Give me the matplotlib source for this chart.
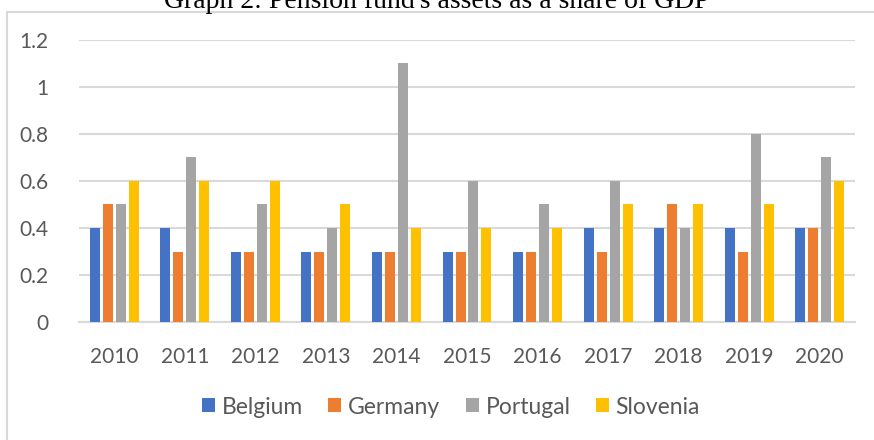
import numpy as np
import matplotlib
matplotlib.use('Agg')
import matplotlib.pyplot as plt
from matplotlib.patches import Rectangle

years = ['2010', '2011', '2012', '2013', '2014', '2015', '2016', '2017', '2018', '2019', '2020']
countries = ['Belgium', 'Germany', 'Portugal', 'Slovenia']
belgium = [0.4, 0.4, 0.3, 0.3, 0.3, 0.3, 0.3, 0.4, 0.4, 0.4, 0.4]
germany = [0.5, 0.3, 0.3, 0.3, 0.3, 0.3, 0.3, 0.3, 0.5, 0.3, 0.4]
portugal = [0.5, 0.7, 0.5, 0.4, 1.1, 0.6, 0.5, 0.6, 0.4, 0.8, 0.7]
slovenia = [0.6, 0.6, 0.6, 0.5, 0.4, 0.4, 0.4, 0.5, 0.5, 0.5, 0.6]
yticks = [0, 0.2, 0.4, 0.6, 0.8, 1, 1.2]
ytick_labels = ['0', '0.2', '0.4', '0.6', '0.8', '1', '1.2']

colori = ['#4472C4', '#ED7D31', '#A5A5A5', '#FFC000']
serie = [belgium, germany, portugal, slovenia]

plt.rcParams['font.family'] = ['Lato', 'DejaVu Sans']

fig = plt.figure(figsize=(8.74, 4.4), dpi=100)
W, H = 874, 440

# bordo del grafico (tagliato a destra e in basso)
fig.patches.append(Rectangle((7 / W, -0.1), 1.2, 1 - 12 / H + 0.1, transform=fig.transFigure,
                             fill=False, edgecolor='#D9D9D9', linewidth=1.5, clip_on=False))

# titolo tagliato in alto, come nell'originale
fig.text(437 / W, 1 - 8 / H, "Graph 2: Pension fund's assets as a share of GDP",
         ha='center', va='baseline', fontsize=20, family='Liberation Serif', color='black')

ax = fig.add_axes([79 / W, 1 - 322 / H, (855 - 79) / W, (322 - 40) / H])

x = np.arange(len(years))
larghezza = 0.142
passo = 0.184
for i, (nome, valori) in enumerate(zip(countries, serie)):
    ax.bar(x + (i - 1.5) * passo, valori, width=larghezza, color=colori[i], label=nome, zorder=3)

ax.set_xlim(-0.5, len(years) - 0.5)
ax.set_ylim(0, 1.2)
ax.set_yticks(yticks)
ax.set_yticklabels(ytick_labels)
ax.set_xticks(x)
ax.set_xticklabels(years)
ax.yaxis.grid(True, color='#D9D9D9', linewidth=1.5, zorder=0)
for s in ['top', 'right', 'left']:
    ax.spines[s].set_visible(False)
ax.spines['bottom'].set_color('#D9D9D9')
ax.spines['bottom'].set_linewidth(1.5)
ax.tick_params(axis='both', length=0, labelsize=15, labelcolor='#595959')
ax.tick_params(axis='x', pad=18)
ax.tick_params(axis='y', pad=22)

ax.legend(loc='center', bbox_to_anchor=(451 / W, 1 - 407 / H), bbox_transform=fig.transFigure,
          ncol=4, frameon=False, fontsize=16.5, labelcolor='#595959',
          handlelength=0.57, handleheight=0.57, handletextpad=0.3, columnspacing=1.1)

plt.savefig('out.png', dpi=100)
